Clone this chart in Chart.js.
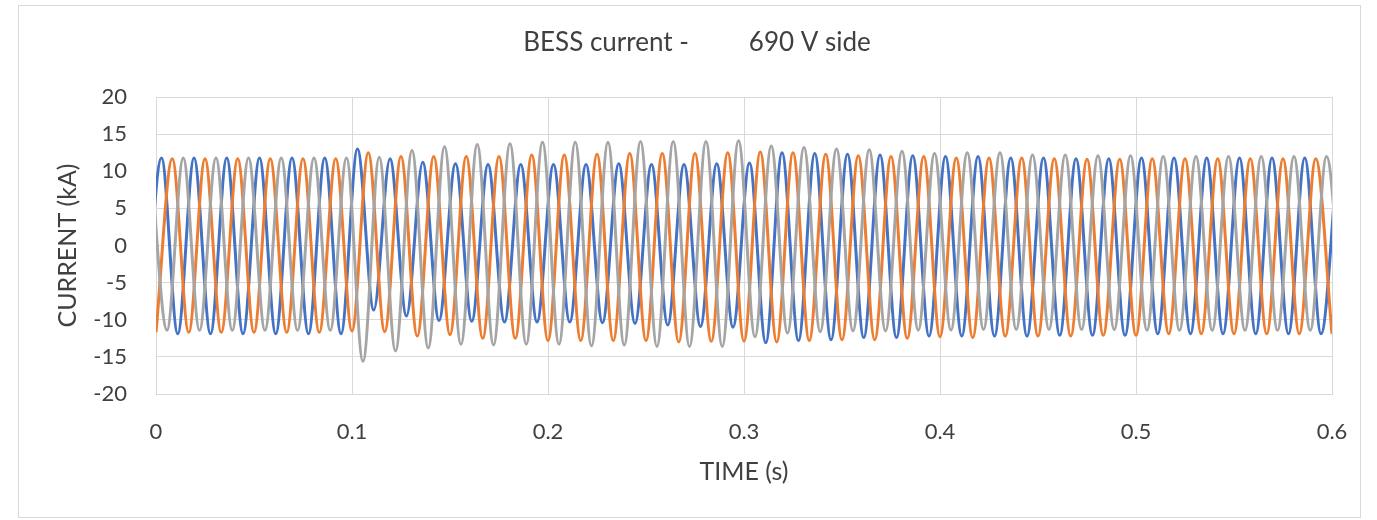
<!DOCTYPE html>
<html>
<head>
<meta charset="utf-8">
<title>BESS current - 690 V side</title>
<script src="https://cdn.jsdelivr.net/npm/chart.js@4.4.1/dist/chart.umd.min.js"></script>
<style>
  html, body { margin: 0; padding: 0; background: #fff; }
  #wrap { position: relative; width: 1377px; height: 520px; }
</style>
</head>
<body>
<div id="wrap"><canvas id="chart" width="1377" height="520"></canvas></div>
<script>
// Peaks and troughs of each phase current (kA) and the times (s) they occur at.
// The curve between them is left to Chart.js' monotone interpolation.
const blueTimes = [
  -0.0056, 0.0028, 0.0111, 0.0194, 0.0278, 0.0361, 0.0444, 0.0528, 0.0611, 0.0694, 0.0778, 0.0861, 0.0944,
  0.1028, 0.1111, 0.1194, 0.1278, 0.1361, 0.1444, 0.1528, 0.1611, 0.1694, 0.1778, 0.1861, 0.1944,
  0.2028, 0.2111, 0.2194, 0.2278, 0.2361, 0.2444, 0.2528, 0.2611, 0.2694, 0.2778, 0.2861, 0.2944,
  0.3028, 0.3111, 0.3194, 0.3278, 0.3361, 0.3444, 0.3528, 0.3611, 0.3694, 0.3778, 0.3861, 0.3944,
  0.4028, 0.4111, 0.4194, 0.4278, 0.4361, 0.4444, 0.4528, 0.4611, 0.4694, 0.4778, 0.4861, 0.4944,
  0.5028, 0.5111, 0.5194, 0.5278, 0.5361, 0.5444, 0.5528, 0.5611, 0.5694, 0.5778, 0.5861, 0.5944, 0.6028
];
const blueCurrent = [
  -11.9,
  11.8, -11.9, 11.8, -11.9, 11.8, -11.9, 11.8, -11.9, 11.8, -11.9, 11.8, -11.9,
  13.0, -8.7, 11.7, -9.5, 11.2, -10.1, 11.0, -10.2, 10.9, -10.3, 10.9, -10.3,
  10.9, -10.3, 10.9, -10.4, 11.0, -10.5, 10.9, -10.7, 10.9, -10.9, 11.0, -11.0, 11.1,
  -13.1, 12.5, -12.8, 12.4, -12.7, 12.3, -12.4, 12.2, -12.4, 12.1, -12.2, 12.0,
  -12.2, 12.0, -12.2, 11.8, -12.2, 11.8, -12.1, 11.7, -12.1, 11.7, -12.1, 11.8,
  -11.9, 11.8, -11.9, 11.8, -11.9, 11.8, -11.9, 11.8, -11.9, 11.8, -11.9, 11.8
];

const orangeTimes = [
  0, 0.0083, 0.0167, 0.025, 0.0333, 0.0417, 0.05, 0.0583, 0.0667, 0.075, 0.0833, 0.0917,
  0.1, 0.1083, 0.1167, 0.125, 0.1333, 0.1417, 0.15, 0.1583, 0.1667, 0.175, 0.1833, 0.1917,
  0.2, 0.2083, 0.2167, 0.225, 0.2333, 0.2417, 0.25, 0.2583, 0.2667, 0.275, 0.2833, 0.2917,
  0.3, 0.3083, 0.3167, 0.325, 0.3333, 0.3417, 0.35, 0.3583, 0.3667, 0.375, 0.3833, 0.3917,
  0.4, 0.4083, 0.4167, 0.425, 0.4333, 0.4417, 0.45, 0.4583, 0.4667, 0.475, 0.4833, 0.4917,
  0.5, 0.5083, 0.5167, 0.525, 0.5333, 0.5417, 0.55, 0.5583, 0.5667, 0.575, 0.5833, 0.5917, 0.6
];
const orangeCurrent = [
  -11.7, 11.7, -11.7, 11.7, -11.7, 11.7, -11.7, 11.7, -11.7, 11.7, -11.7, 11.7,
  -11.5, 12.5, -11.6, 12.0, -12.2, 12.0, -12.0, 12.0, -12.5, 12.0, -12.5, 12.2,
  -12.8, 12.2, -12.8, 12.3, -12.8, 12.4, -12.8, 12.4, -13.0, 12.4, -12.9, 12.5,
  -12.9, 12.6, -13.0, 12.5, -12.8, 12.3, -12.7, 12.1, -12.7, 12.0, -12.5, 12.0,
  -12.3, 11.8, -12.4, 11.8, -12.2, 11.8, -12.2, 11.7, -12.2, 11.6, -12.1, 11.6,
  -12.1, 11.7, -11.9, 11.7, -11.9, 11.7, -11.9, 11.7, -11.9, 11.7, -11.9, 11.7, -11.9
];

const grayTimes = [
  -0.0028, 0.0056, 0.0139, 0.0222, 0.0306, 0.0389, 0.0472, 0.0556, 0.0639, 0.0722, 0.0806, 0.0889, 0.0972,
  0.1056, 0.1139, 0.1222, 0.1306, 0.1389, 0.1472, 0.1556, 0.1639, 0.1722, 0.1806, 0.1889, 0.1972,
  0.2056, 0.2139, 0.2222, 0.2306, 0.2389, 0.2472, 0.2556, 0.2639, 0.2722, 0.2806, 0.2889, 0.2972,
  0.3056, 0.3139, 0.3222, 0.3306, 0.3389, 0.3472, 0.3556, 0.3639, 0.3722, 0.3806, 0.3889, 0.3972,
  0.4056, 0.4139, 0.4222, 0.4306, 0.4389, 0.4472, 0.4556, 0.4639, 0.4722, 0.4806, 0.4889, 0.4972,
  0.5056, 0.5139, 0.5222, 0.5306, 0.5389, 0.5472, 0.5556, 0.5639, 0.5722, 0.5806, 0.5889, 0.5972, 0.6056
];
const grayCurrent = [
  11.8,
  -11.4, 11.8, -11.4, 11.8, -11.4, 11.8, -11.4, 11.8, -11.4, 11.8, -11.4, 11.8,
  -15.6, 11.9, -14.2, 12.8, -13.8, 13.3, -13.3, 13.6, -13.4, 13.7, -13.3, 13.9,
  -13.3, 13.9, -13.5, 13.9, -13.4, 14.0, -13.6, 14.0, -13.6, 14.0, -13.6, 14.1,
  -12.3, 13.4, -11.8, 13.2, -11.6, 13.0, -11.5, 12.9, -11.5, 12.7, -11.4, 12.4,
  -11.4, 12.5, -11.3, 12.5, -11.3, 12.2, -11.3, 12.2, -11.3, 12.1, -11.3, 12.1,
  -11.4, 12.0, -11.4, 12.0, -11.4, 12.0, -11.4, 12.0, -11.4, 12.0, -11.4, 12.0, -11.4
];

const timeTicks = [0, 0.1, 0.2, 0.3, 0.4, 0.5, 0.6];
const currentTicks = [-20, -15, -10, -5, 0, 5, 10, 15, 20];

const FONT = "Lato, 'Open Sans', sans-serif";
const GRID = "#d9d9d9";
const TEXT = "#404040";
const TITLE = "BESS current -         690 V side";

const toPoints = (ts, vs) => ts.map((t, i) => ({ x: t, y: vs[i] }));

// chart frame and the title, centred on the frame rather than the plot
const chartFrame = {
  id: "chartFrame",
  afterDraw(chart) {
    const c = chart.ctx;
    c.save();
    c.strokeStyle = "#d9d9d9";
    c.lineWidth = 1;
    c.strokeRect(18.5, 5.5, 1342, 512);
    c.fillStyle = TEXT;
    c.font = "26px " + FONT;
    c.textAlign = "center";
    c.textBaseline = "middle";
    c.fillText(TITLE, 697, 43);
    c.restore();
  }
};

const phase = (label, pts, color, order) => ({
  label,
  data: pts,
  borderColor: color,
  backgroundColor: color,
  borderWidth: 3,
  pointRadius: 0,
  cubicInterpolationMode: "monotone",
  clip: 0,
  order
});

new Chart(document.getElementById("chart"), {
  type: "line",
  data: {
    datasets: [
      phase("Phase A", toPoints(blueTimes, blueCurrent), "#4472c4", 3),
      phase("Phase B", toPoints(orangeTimes, orangeCurrent), "#ed7d31", 2),
      phase("Phase C", toPoints(grayTimes, grayCurrent), "#a5a5a5", 1)
    ]
  },
  options: {
    responsive: false,
    animation: false,
    layout: { padding: { left: 0, right: 45, top: 97, bottom: 0 } },
    plugins: {
      legend: { display: false },
      tooltip: { enabled: false },
      title: { display: false }
    },
    scales: {
      x: {
        type: "linear",
        min: 0,
        max: 0.6,
        afterBuildTicks: s => { s.ticks = timeTicks.map(v => ({ value: v })); },
        afterFit: s => { s.height = 126; },
        ticks: {
          color: TEXT,
          font: { family: FONT, size: 22 },
          padding: 25,
          maxRotation: 0,
          callback: v => String(+v.toFixed(1))
        },
        grid: { color: GRID, lineWidth: 1, drawTicks: false },
        border: { color: GRID },
        title: {
          display: true,
          text: "TIME (s)",
          color: TEXT,
          font: { family: FONT, size: 25 },
          padding: { top: 0, bottom: 33 }
        }
      },
      y: {
        min: -20,
        max: 20,
        afterBuildTicks: s => { s.ticks = currentTicks.map(v => ({ value: v })); },
        afterFit: s => { s.width = 156; },
        ticks: {
          color: TEXT,
          font: { family: FONT, size: 22 },
          padding: 29
        },
        grid: { color: GRID, lineWidth: 1, drawTicks: false },
        border: { color: GRID },
        title: {
          display: true,
          text: "CURRENT (kA)",
          color: TEXT,
          font: { family: FONT, size: 25 },
          padding: { top: 53, bottom: 0 }
        }
      }
    }
  },
  plugins: [chartFrame]
});
</script>
</body>
</html>
